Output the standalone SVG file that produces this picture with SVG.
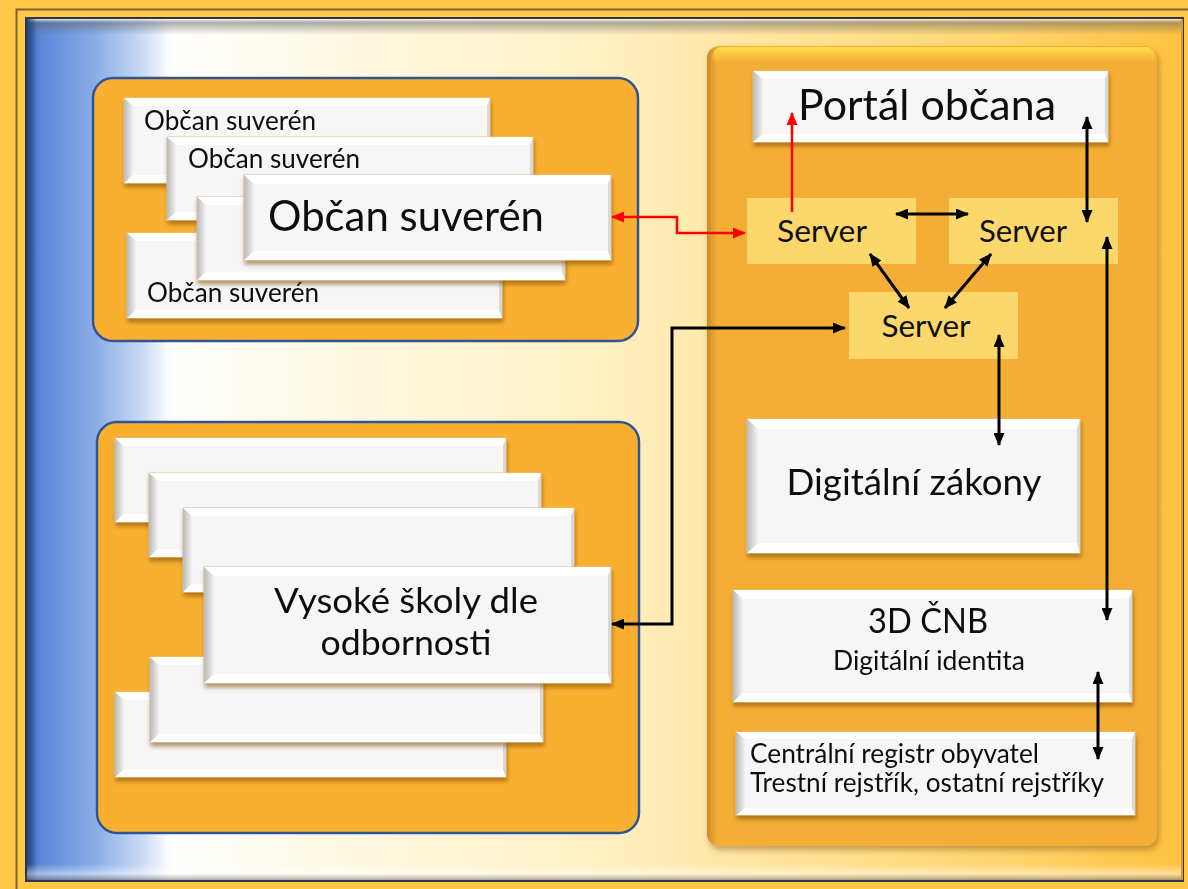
<svg xmlns="http://www.w3.org/2000/svg" width="1188" height="889" viewBox="0 0 1188 889">
<defs>
  <linearGradient id="bg" gradientUnits="userSpaceOnUse" x1="26" y1="0" x2="1183" y2="0">
    <stop offset="0" stop-color="#3c66b8"/>
    <stop offset="0.012" stop-color="#5a87d8"/>
    <stop offset="0.06" stop-color="#8aade6"/>
    <stop offset="0.1" stop-color="#c9daf6"/>
    <stop offset="0.125" stop-color="#ffffff"/>
    <stop offset="0.25" stop-color="#fffae6"/>
    <stop offset="0.5" stop-color="#fff0c2"/>
    <stop offset="0.62" stop-color="#ffe6a2"/>
    <stop offset="0.85" stop-color="#ffd46c"/>
    <stop offset="1" stop-color="#ffc240"/>
  </linearGradient>
  <linearGradient id="topShade" x1="0" y1="0" x2="0" y2="1">
    <stop offset="0" stop-color="#ffffff" stop-opacity="0.8"/>
    <stop offset="0.25" stop-color="#606060" stop-opacity="0.5"/>
    <stop offset="1" stop-color="#606060" stop-opacity="0"/>
  </linearGradient>
  <linearGradient id="leftShade" x1="0" y1="0" x2="1" y2="0">
    <stop offset="0" stop-color="#1f3f7a" stop-opacity="0.9"/>
    <stop offset="1" stop-color="#1f3f7a" stop-opacity="0"/>
  </linearGradient>
  <linearGradient id="botShade" x1="0" y1="0" x2="0" y2="1">
    <stop offset="0" stop-color="#ffffff" stop-opacity="0"/>
    <stop offset="0.6" stop-color="#ffffff" stop-opacity="0.45"/>
    <stop offset="1" stop-color="#707070" stop-opacity="0.6"/>
  </linearGradient>
  <linearGradient id="rpFill" x1="0" y1="0" x2="1" y2="0">
    <stop offset="0" stop-color="#c98a28"/>
    <stop offset="0.022" stop-color="#f4ae36"/>
    <stop offset="1" stop-color="#f4ae36"/>
  </linearGradient>
  <linearGradient id="rpTop" x1="0" y1="0" x2="0" y2="1">
    <stop offset="0" stop-color="#ffe44c" stop-opacity="0.9"/>
    <stop offset="1" stop-color="#ffe44c" stop-opacity="0"/>
  </linearGradient>
  <linearGradient id="bev" x1="0" y1="0" x2="1" y2="0">
    <stop offset="0" stop-color="#b9b9b9"/>
    <stop offset="1" stop-color="#f2f2f2"/>
  </linearGradient>
  <filter id="sh" x="-5%" y="-10%" width="112%" height="130%">
    <feDropShadow dx="1" dy="4" stdDeviation="2" flood-color="#7a4800" flood-opacity="0.55"/>
  </filter>
  <filter id="psh" x="-5%" y="-5%" width="110%" height="110%">
    <feDropShadow dx="2" dy="4" stdDeviation="3" flood-color="#8a5a10" flood-opacity="0.5"/>
  </filter>
  <marker id="mb" viewBox="0 0 13 11" refX="12" refY="5.5" markerWidth="13" markerHeight="11" markerUnits="userSpaceOnUse" orient="auto-start-reverse">
    <path d="M0,0 L13,5.5 L0,11 z" fill="#000"/>
  </marker>
  <marker id="mr" viewBox="0 0 13 11" refX="12" refY="5.5" markerWidth="13" markerHeight="11" markerUnits="userSpaceOnUse" orient="auto-start-reverse">
    <path d="M0,0 L13,5.5 L0,11 z" fill="#ff0000"/>
  </marker>
  <style>
    text { font-family: Lato, "Open Sans", "Liberation Sans", sans-serif; fill: #111; }
    .body { fill: #f6f6f6; stroke: #e7c283; stroke-width: 1; }
    .bv { fill: url(#bev); }
    .hl { fill: #ffffff; }
    .rb { fill: #d8d8d8; }
    .grp { fill: #f9b031; stroke: #2f5597; stroke-width: 2.5; }
    .srv { fill: #fcd76b; }
    .cb { fill: none; stroke: #000; stroke-width: 3; marker-start: url(#mb); marker-end: url(#mb); }
    .cr { fill: none; stroke: #ff0000; stroke-width: 2.5; }
    .s { font-size: 26px; }
  </style>
</defs>

<!-- background and frame -->
<rect x="0" y="0" width="1188" height="889" fill="#ffc947"/>
<path d="M16.5,889 V9.5 H1188" fill="none" stroke="#7d6530" stroke-width="2"/>
<rect x="26" y="18" width="1157" height="863" fill="url(#bg)" stroke="#2d3550" stroke-width="2"/>
<rect x="27" y="19" width="1155" height="16" fill="url(#topShade)"/>
<rect x="27" y="19" width="10" height="861" fill="url(#leftShade)"/>
<rect x="27" y="864" width="1155" height="16" fill="url(#botShade)"/>
<line x1="1182" y1="19" x2="1182" y2="880" stroke="#d89a2c" stroke-width="2"/>

<!-- left group: citizens -->
<g id="citizens">
  <rect class="grp" x="93" y="78" width="545" height="263" rx="20"/>
  <g filter="url(#sh)" transform="translate(124,98)">
    <rect class="body" x="0" y="0" width="366" height="85"/>
    <polygon class="hl" points="0,0 366,0 363,8 9,8"/>
    <polygon class="hl" points="0,85 9,77 363,77 366,85"/>
    <polygon class="rb" points="366,0 366,85 363,77 363,8"/>
    <polygon class="bv" points="0,0 9,8 9,77 0,85"/>
    <text class="s" x="20" y="32" textLength="172" lengthAdjust="spacingAndGlyphs">Občan suverén</text>
  </g>
  <g filter="url(#sh)" transform="translate(167,137)">
    <rect class="body" x="0" y="0" width="366" height="83"/>
    <polygon class="hl" points="0,0 366,0 363,8 9,8"/>
    <polygon class="hl" points="0,83 9,75 363,75 366,83"/>
    <polygon class="rb" points="366,0 366,83 363,75 363,8"/>
    <polygon class="bv" points="0,0 9,8 9,75 0,83"/>
    <text class="s" x="21" y="31" textLength="172" lengthAdjust="spacingAndGlyphs">Občan suverén</text>
  </g>
  <g filter="url(#sh)" transform="translate(127,233)">
    <rect class="body" x="0" y="0" width="375" height="85"/>
    <polygon class="hl" points="0,0 375,0 372,8 9,8"/>
    <polygon class="hl" points="0,85 9,77 372,77 375,85"/>
    <polygon class="rb" points="375,0 375,85 372,77 372,8"/>
    <polygon class="bv" points="0,0 9,8 9,77 0,85"/>
    <text class="s" x="20" y="69" textLength="172" lengthAdjust="spacingAndGlyphs">Občan suverén</text>
  </g>
  <g filter="url(#sh)" transform="translate(197,197)">
    <rect class="body" x="0" y="0" width="368" height="83"/>
    <polygon class="hl" points="0,0 368,0 365,8 9,8"/>
    <polygon class="hl" points="0,83 9,75 365,75 368,83"/>
    <polygon class="rb" points="368,0 368,83 365,75 365,8"/>
    <polygon class="bv" points="0,0 9,8 9,75 0,83"/>
  </g>
  <g filter="url(#sh)" transform="translate(244,175)">
    <rect class="body" x="0" y="0" width="367" height="85"/>
    <polygon class="hl" points="0,0 367,0 364,9 10,9"/>
    <polygon class="hl" points="0,85 10,76 364,76 367,85"/>
    <polygon class="rb" points="367,0 367,85 364,76 364,9"/>
    <polygon class="bv" points="0,0 10,9 10,76 0,85"/>
    <text x="24" y="56" font-size="42" textLength="276" lengthAdjust="spacingAndGlyphs">Občan suverén</text>
  </g>
</g>

<!-- left group: universities -->
<g id="universities">
  <rect class="grp" x="97" y="422" width="542" height="411" rx="20"/>
  <g filter="url(#sh)" transform="translate(115,438)">
    <rect class="body" x="0" y="0" width="391" height="84"/>
    <polygon class="hl" points="0,0 391,0 388,8 9,8"/>
    <polygon class="hl" points="0,84 9,76 388,76 391,84"/>
    <polygon class="rb" points="391,0 391,84 388,76 388,8"/>
    <polygon class="bv" points="0,0 9,8 9,76 0,84"/>
  </g>
  <g filter="url(#sh)" transform="translate(149,473)">
    <rect class="body" x="0" y="0" width="392" height="84"/>
    <polygon class="hl" points="0,0 392,0 389,8 9,8"/>
    <polygon class="hl" points="0,84 9,76 389,76 392,84"/>
    <polygon class="rb" points="392,0 392,84 389,76 389,8"/>
    <polygon class="bv" points="0,0 9,8 9,76 0,84"/>
  </g>
  <g filter="url(#sh)" transform="translate(183,508)">
    <rect class="body" x="0" y="0" width="391" height="84"/>
    <polygon class="hl" points="0,0 391,0 388,8 9,8"/>
    <polygon class="hl" points="0,84 9,76 388,76 391,84"/>
    <polygon class="rb" points="391,0 391,84 388,76 388,8"/>
    <polygon class="bv" points="0,0 9,8 9,76 0,84"/>
  </g>
  <g filter="url(#sh)" transform="translate(115,692)">
    <rect class="body" x="0" y="0" width="391" height="85"/>
    <polygon class="hl" points="0,0 391,0 388,8 9,8"/>
    <polygon class="hl" points="0,85 9,77 388,77 391,85"/>
    <polygon class="rb" points="391,0 391,85 388,77 388,8"/>
    <polygon class="bv" points="0,0 9,8 9,77 0,85"/>
  </g>
  <g filter="url(#sh)" transform="translate(150,657)">
    <rect class="body" x="0" y="0" width="393" height="85"/>
    <polygon class="hl" points="0,0 393,0 390,8 9,8"/>
    <polygon class="hl" points="0,85 9,77 390,77 393,85"/>
    <polygon class="rb" points="393,0 393,85 390,77 390,8"/>
    <polygon class="bv" points="0,0 9,8 9,77 0,85"/>
  </g>
  <g filter="url(#sh)" transform="translate(204,567)">
    <rect class="body" x="0" y="0" width="407" height="116"/>
    <polygon class="hl" points="0,0 407,0 404,9 10,9"/>
    <polygon class="hl" points="0,116 10,107 404,107 407,116"/>
    <polygon class="rb" points="407,0 407,116 404,107 404,9"/>
    <polygon class="bv" points="0,0 10,9 10,107 0,116"/>
    <text x="202" y="46" font-size="35" text-anchor="middle" textLength="264" lengthAdjust="spacingAndGlyphs">Vysoké školy dle</text>
    <text x="202" y="88" font-size="35" text-anchor="middle" textLength="171" lengthAdjust="spacingAndGlyphs">odbornosti</text>
  </g>
</g>

<!-- right panel -->
<g id="state-panel">
  <rect x="707" y="46" width="450" height="800" rx="12" fill="url(#rpFill)" filter="url(#psh)"/>
  <path d="M712,60 Q712,47 724,47 H1145 Q1154,47 1155,56 V62 H712 z" fill="url(#rpTop)"/>
</g>

<g id="portal">
  <g filter="url(#sh)" transform="translate(753,71)">
    <rect class="body" x="0" y="0" width="355" height="71"/>
    <polygon class="hl" points="0,0 355,0 352,8 10,8"/>
    <polygon class="hl" points="0,71 10,63 352,63 355,71"/>
    <polygon class="rb" points="355,0 355,71 352,63 352,8"/>
    <polygon class="bv" points="0,0 10,8 10,63 0,71"/>
    <text x="45" y="49" font-size="43" textLength="258" lengthAdjust="spacingAndGlyphs">Portál občana</text>
  </g>
</g>

<g id="server1">
  <rect class="srv" x="747" y="198" width="169" height="66"/>
  <text x="822" y="242" font-size="31" text-anchor="middle" textLength="90" lengthAdjust="spacingAndGlyphs">Server</text>
</g>
<g id="server2">
  <rect class="srv" x="949" y="198" width="169" height="66"/>
  <text x="1023" y="242" font-size="31" text-anchor="middle" textLength="88" lengthAdjust="spacingAndGlyphs">Server</text>
</g>
<g id="server3">
  <rect class="srv" x="849" y="292" width="169" height="67"/>
  <text x="926" y="337" font-size="31" text-anchor="middle" textLength="89" lengthAdjust="spacingAndGlyphs">Server</text>
</g>

<g id="laws">
  <g filter="url(#sh)" transform="translate(747,419)">
    <rect class="body" x="0" y="0" width="333" height="134"/>
    <polygon class="hl" points="0,0 333,0 330,10 11,10"/>
    <polygon class="hl" points="0,134 11,124 330,124 333,134"/>
    <polygon class="rb" points="333,0 333,134 330,124 330,10"/>
    <polygon class="bv" points="0,0 11,10 11,124 0,134"/>
    <text x="167" y="76" font-size="36" text-anchor="middle" textLength="255" lengthAdjust="spacingAndGlyphs">Digitální zákony</text>
  </g>
</g>

<g id="cnb">
  <g filter="url(#sh)" transform="translate(733,590)">
    <rect class="body" x="0" y="0" width="399" height="112"/>
    <polygon class="hl" points="0,0 399,0 396,9 10,9"/>
    <polygon class="hl" points="0,112 10,103 396,103 399,112"/>
    <polygon class="rb" points="399,0 399,112 396,103 396,9"/>
    <polygon class="bv" points="0,0 10,9 10,103 0,112"/>
    <text x="195" y="43" font-size="35" text-anchor="middle" textLength="120" lengthAdjust="spacingAndGlyphs">3D ČNB</text>
    <text x="196" y="80" font-size="26" text-anchor="middle" textLength="192" lengthAdjust="spacingAndGlyphs">Digitální identita</text>
  </g>
</g>

<g id="registers">
  <g filter="url(#sh)" transform="translate(736,732)">
    <rect class="body" x="0" y="0" width="399" height="83"/>
    <polygon class="hl" points="0,0 399,0 396,7 9,7"/>
    <polygon class="hl" points="0,83 9,76 396,76 399,83"/>
    <polygon class="rb" points="399,0 399,83 396,76 396,7"/>
    <polygon class="bv" points="0,0 9,7 9,76 0,83"/>
    <text class="s" x="14" y="31" textLength="289" lengthAdjust="spacingAndGlyphs">Centrální registr obyvatel</text>
    <text class="s" x="14" y="60" textLength="354" lengthAdjust="spacingAndGlyphs">Trestní rejstřík, ostatní rejstříky</text>
  </g>
</g>

<!-- connectors -->
<g id="connectors">
  <path class="cr" d="M792,212 V113" marker-end="url(#mr)"/>
  <path class="cr" d="M612,217 H677 V233 H745" marker-start="url(#mr)" marker-end="url(#mr)"/>
  <path class="cb" d="M896,214 H968"/>
  <path class="cb" d="M870,254 L909,308"/>
  <path class="cb" d="M991,254 L945,308"/>
  <path class="cb" d="M1087,117 V222"/>
  <path class="cb" d="M1107,237 V620"/>
  <path class="cb" d="M999,335 V445"/>
  <path class="cb" d="M1098,672 V759"/>
  <path class="cb" d="M612,624 H672 V328 H845" stroke="#2a2620"/>
</g>
</svg>
